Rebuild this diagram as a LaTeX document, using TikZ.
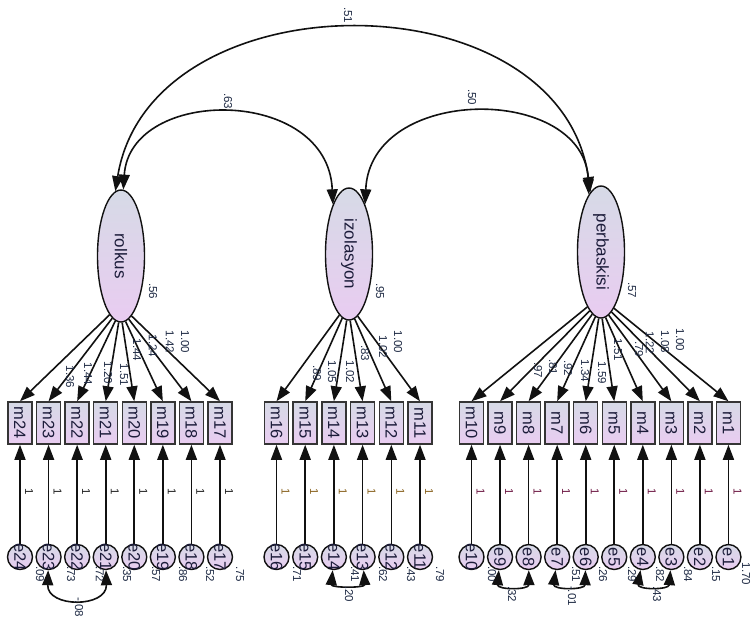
\documentclass[tikz,border=0pt]{standalone}
\usepackage{fontspec}
\usepackage{graphicx}
\setmainfont{Liberation Sans}
\usetikzlibrary{arrows.meta,shapes.geometric}
\definecolor{shTop}{HTML}{D6DAE6}
\definecolor{shBot}{HTML}{E9CCF1}
\definecolor{edge}{HTML}{111111}
\definecolor{numc}{HTML}{1E2A44}
\definecolor{oneL}{HTML}{222222}
\definecolor{oneM}{HTML}{8A6420}
\definecolor{oneR}{HTML}{6E1A45}
\definecolor{labc}{HTML}{1C1C3A}

\begin{document}
\begin{tikzpicture}[x=1pt,y=-1pt,
  link/.style={draw=edge, line width=1.6pt,
    -{Triangle[length=15pt,width=11pt]}},
  covar/.style={draw=edge, line width=1.6pt,
    {Triangle[length=15pt,width=11pt]}-{Triangle[length=15pt,width=11pt]}},
  latent/.style={ellipse, draw=edge, line width=1.4pt, minimum width=47pt,
    minimum height=132pt, inner sep=0pt, top color=shTop, bottom color=shBot,
    font=\fontsize{17}{17}\selectfont, text=labc},
  obs/.style={rectangle, draw=edge!85, line width=1.5pt, minimum width=24pt,
    minimum height=42pt, inner sep=0pt, top color=shTop, bottom color=shBot,
    font=\fontsize{16.5}{16.5}\selectfont, text=labc},
  err/.style={circle, draw=edge, line width=1.4pt, minimum size=25pt,
    inner sep=0pt, top color=shTop, bottom color=shBot},
  errtxt/.style={rotate=-90, font=\fontsize{16.5}{16.5}\selectfont,
    inner sep=0pt, text=labc},
  num/.style={rotate=-90, font=\fontsize{11.5}{11.5}\selectfont,
    text=numc, inner sep=0pt},
]
\useasboundingbox[fill=white] (0,0) rectangle (751,625);

% latent factors
\node[latent] (rolkus) at (121,256) {\rotatebox{-90}{rolkus}};
\node[latent] (izolasyon) at (349,254) {\rotatebox{-90}{izolasyon}};
\node[latent] (perbaskisi) at (601,252) {\rotatebox{-90}{perbaskisi}};

% factor variances
\node[num] (vr) at (153,291) {.56};
\node[num] (vi) at (380,291) {.95};
\node[num] (vp) at (632,290) {.57};

% factor covariances
\draw[covar] (rolkus.95) .. controls (150,-25) and (560,-25) .. (perbaskisi.100);
\draw[covar] (rolkus.88) .. controls (130,86) and (328,86) .. (izolasyon.108);
\draw[covar] (izolasyon.72) .. controls (370,84) and (585,84) .. (perbaskisi.102);
\node[num] (c1) at (348,15) {.51};
\node[num] (c2) at (228,101) {.63};
\node[num] (c3) at (472,97) {.50};

% rolkus indicators
\foreach \n [count=\i from 0] in {24,23,...,17} {
  \pgfmathsetmacro{\xx}{20+28.57*\i}
  \pgfmathsetmacro{\aa}{270+(\i-3.5)*3.1}
  \node[obs] (m\n) at (\xx,423) {\rotatebox{-90}{m\n}};
  \draw[link] (rolkus.\aa) -- (m\n.north);
  \node[err] (e\n) at (\xx,557) {};
  \node[errtxt] (te\n) at (\xx,557) {e\n};
  \draw[link] (e\n) -- (m\n);
  \node[num,text=oneL] (w\n) at (\xx+9,492) {1};
}
% izolasyon indicators
\foreach \n [count=\i from 0] in {16,15,...,11} {
  \pgfmathsetmacro{\xx}{276.5+28.7*\i}
  \pgfmathsetmacro{\aa}{270+(\i-2.5)*3.4}
  \node[obs] (m\n) at (\xx,423) {\rotatebox{-90}{m\n}};
  \draw[link] (izolasyon.\aa) -- (m\n.north);
  \node[err] (e\n) at (\xx,557) {};
  \node[errtxt] (te\n) at (\xx,557) {e\n};
  \draw[link] (e\n) -- (m\n);
  \node[num,text=oneM] (w\n) at (\xx+9,492) {1};
}
% perbaskisi indicators
\foreach \n [count=\i from 0] in {10,9,...,1} {
  \pgfmathsetmacro{\xx}{471.5+28.55*\i}
  \pgfmathsetmacro{\aa}{270+(\i-4.5)*3}
  \node[obs] (m\n) at (\xx,423) {\rotatebox{-90}{m\n}};
  \draw[link] (perbaskisi.\aa) -- (m\n.north);
  \node[err] (e\n) at (\xx,557) {};
  \node[errtxt] (te\n) at (\xx,557) {e\n};
  \draw[link] (e\n) -- (m\n);
  \node[num,text=oneR] (w\n) at (\xx+9,492) {1};
}

% factor loadings
\foreach \px/\py/\lab [count=\k] in {
  70/377/1.36, 88/374/1.44, 108/373/1.20, 124/375/1.51,
  137/350/1.44, 153/346/1.24, 170/342/1.42, 185/342/1.00,
  317/373/.89, 332/372/1.05, 350/372/1.02, 365/353/.83,
  383/347/1.02, 398/342/1.00,
  538/370/.97, 553/367/.81, 568/368/.92, 585/371/1.34, 602/373/1.59,
  618/350/1.51, 639/349/.79, 650/343/1.22, 665/342/1.08, 680/340/1.00} {
  \node[num] (L\k) at (\px,\py) {\lab};
}

% error variances
\foreach \px/\lab [count=\k] in {
  40/.09, 71/.73, 100/.72, 127/.35, 156/.57, 183/.86, 210/.52, 240/.75,
  297/.71, 355/.41, 383/.62, 411/.43, 440/.79,
  492/.00, 576/.51, 603/.26, 632/.29, 660/.82, 688/.84, 716/.15, 746/1.70} {
  \node[num] (V\k) at (\px,574) {\lab};
}

% error covariances
\draw[covar] (e23) .. controls (47,608) and (107,608) .. (e21);
\draw[covar] (e14) .. controls (331,588) and (365,588) .. (e13);
\draw[covar] (e9) .. controls (497,590) and (529,590) .. (e8);
\draw[covar] (e7) .. controls (553,590) and (585,590) .. (e6);
\draw[covar] (e4) .. controls (637,590) and (669,590) .. (e3);
\node[num] (k1) at (79,607) {-.08};
\node[num] (k2) at (349,594) {.20};
\node[num] (k3) at (512,594) {.32};
\node[num] (k4) at (572,596) {-.01};
\node[num] (k5) at (657,594) {.43};
\end{tikzpicture}
\end{document}
